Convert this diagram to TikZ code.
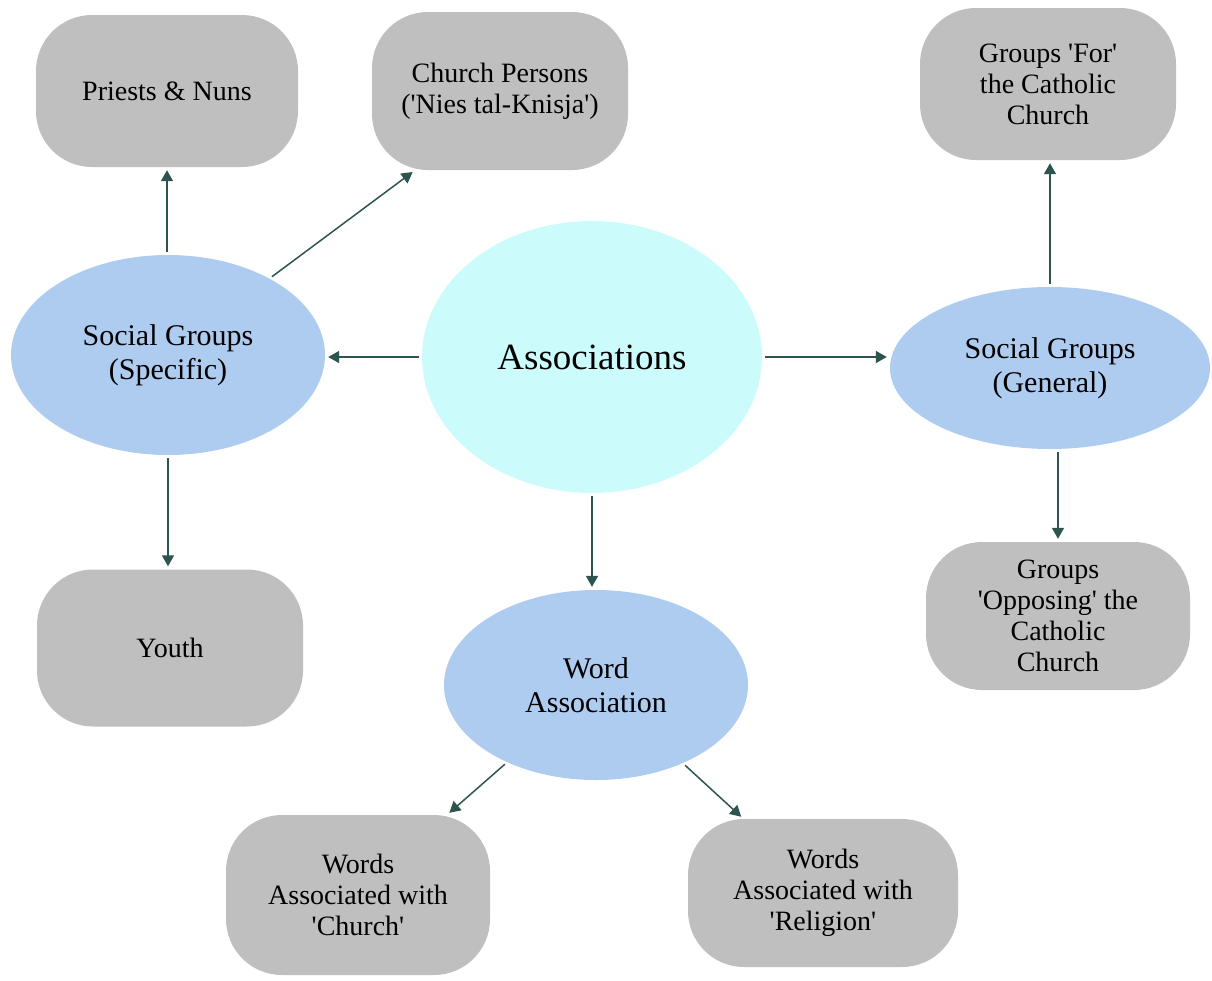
\documentclass[tikz,border=0pt]{standalone}
\usepackage{fontspec}
\setmainfont{Liberation Serif}
\usetikzlibrary{arrows.meta,shapes.geometric}
\definecolor{boxgray}{HTML}{BFBFBF}
\definecolor{ellblue}{HTML}{AECBF0}
\definecolor{centcyan}{HTML}{CCFBFC}
\definecolor{arrowc}{HTML}{2E5450}
\newcommand{\sq}{\textquotesingle}
\tikzset{
  graybox/.style={fill=boxgray, draw=none, rounded corners=56pt, align=center,
    font=\fontsize{28}{31}\selectfont, inner sep=0pt},
  blueell/.style={ellipse, fill=ellblue, draw=none, align=center,
    font=\fontsize{30}{34}\selectfont, inner sep=0pt},
  conn/.style={draw=arrowc, line width=1.5pt, -{Triangle[length=11pt,width=12pt]},
    shorten >=3pt, shorten <=3pt},
}
\begin{document}
\begin{tikzpicture}[x=1pt,y=-1pt]
\useasboundingbox (0,0) rectangle (1212,980);
% gray boxes
\node[graybox, minimum width=262pt, minimum height=152pt] (priests) at (167,91) {Priests \& Nuns};
\node[graybox, minimum width=256pt, minimum height=158pt] (church) at (500,91) {Church Persons\\(\sq Nies tal-Knisja\sq)};
\node[graybox, minimum width=256pt, minimum height=152pt] (for) at (1048,84) {Groups \sq For\sq\\the Catholic\\Church};
\node[graybox, minimum width=264pt, minimum height=148pt] (opp) at (1058,616) {Groups\\\sq Opposing\sq{} the\\Catholic\\Church};
\node[graybox, minimum width=266pt, minimum height=157pt] (youth) at (170,648) {Youth};
\node[graybox, minimum width=264pt, minimum height=160pt] (wchurch) at (358,895) {Words\\Associated with\\\sq Church\sq};
\node[graybox, minimum width=270pt, minimum height=148pt] (wrel) at (823,893) {Words\\Associated with\\\sq Religion\sq};
% ellipses
\node[ellipse, fill=centcyan, minimum width=340pt, minimum height=272pt,
  font=\fontsize{37}{42}\selectfont, inner sep=0pt] (assoc) at (592,357) {Associations};
\node[blueell, minimum width=314pt, minimum height=200pt] (spec) at (168,355) {Social Groups\\(Specific)};
\node[blueell, minimum width=320pt, minimum height=162pt] (gen) at (1050,368) {Social Groups\\(General)};
\node[blueell, minimum width=304pt, minimum height=190pt] (word) at (596,685) {Word\\Association};
% connectors
\draw[conn] (spec.north -| priests.south) -- (priests.south);
\draw[conn] (spec.37) -- (church.223);
\draw[conn] (assoc.west) -- (assoc.west -| spec.east);
\draw[conn] (assoc.east) -- (assoc.east -| gen.west);
\draw[conn] (gen.north) -- (gen.north |- for.south);
\draw[conn] (gen.south -| opp.north) -- (opp.north);
\draw[conn] (spec.south) -- (spec.south |- youth.north);
\draw[conn] (assoc.south) -- (assoc.south |- word.north);
\draw[conn] (word.221) -- (wchurch.42);
\draw[conn] (word.318) -- (wrel.137);
\end{tikzpicture}
\end{document}
